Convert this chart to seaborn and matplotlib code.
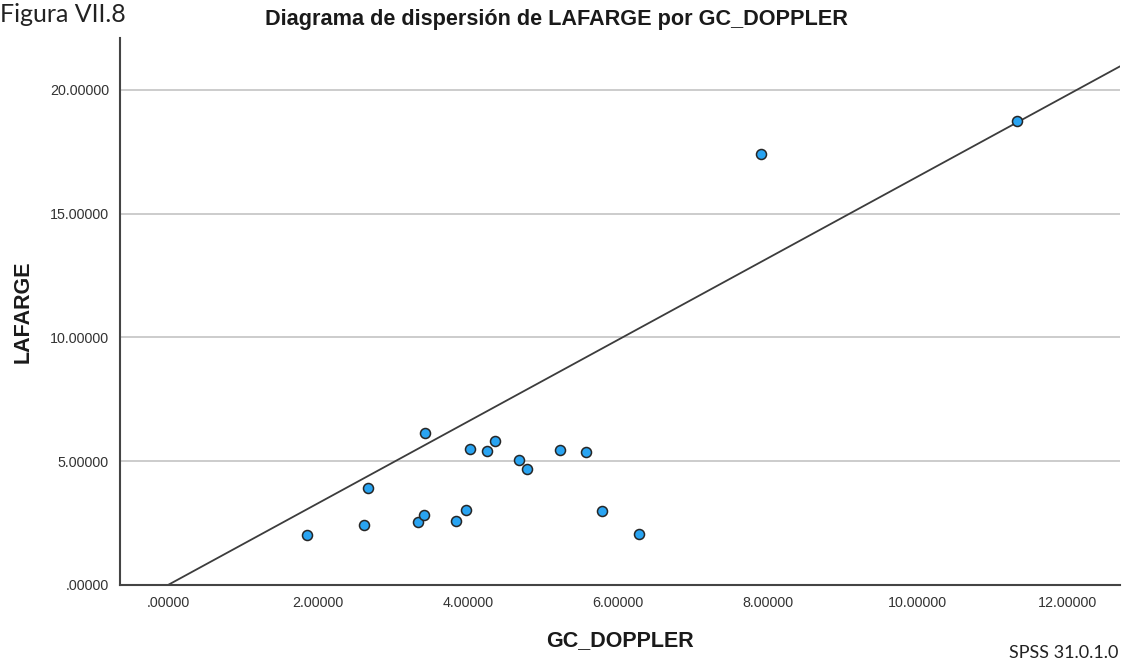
import numpy as np
import pandas as pd
import matplotlib
matplotlib.use("Agg")
import matplotlib.pyplot as plt
import seaborn as sns

# Data
gc_doppler = [1.86, 2.61, 2.67, 3.34, 3.41, 3.43, 3.84, 3.98, 4.03, 4.25,
              4.36, 4.68, 4.79, 5.23, 5.58, 5.79, 6.28, 7.91, 11.32]
lafarge = [2.02, 2.44, 3.91, 2.53, 2.83, 6.13, 2.57, 3.02, 5.51, 5.40,
           5.81, 5.05, 4.69, 5.45, 5.39, 3.00, 2.05, 17.41, 18.73]
ref_intercept = 0.0
ref_slope = 1.65
x_ticks = [0, 2, 4, 6, 8, 10, 12]
y_ticks = [0, 5, 10, 15, 20]

df = pd.DataFrame({"GC_DOPPLER": gc_doppler, "LAFARGE": lafarge})

sns.set_style("white")
plt.rcParams["font.family"] = ["Liberation Sans", "DejaVu Sans"]

W, H = 1127, 666
fig = plt.figure(figsize=(W / 100, H / 100), dpi=100)
ax = fig.add_axes([120 / W, 1 - 585 / H, (1120 - 120) / W, (585 - 38) / H])

ax.set_xlim(-0.64, 12.7)
ax.set_ylim(0, 22.1)

for yv in y_ticks[1:]:
    ax.axhline(yv, color="#c4c4c4", lw=1.2, zorder=0)

ax.axline((0, ref_intercept), slope=ref_slope, color="#3c3c3c", lw=1.3, zorder=2)

sns.scatterplot(data=df, x="GC_DOPPLER", y="LAFARGE", ax=ax, s=52,
                color="#29a4f2", edgecolor="#262626", linewidth=1.1, zorder=3)

ax.set_xticks(x_ticks)
ax.set_yticks(y_ticks)
fmt = lambda v: ("%.5f" % v).lstrip("0") if v == 0 else "%.5f" % v
ax.set_xticklabels([fmt(v) for v in x_ticks], fontsize=10.3, color="#333333")
ax.set_yticklabels([fmt(v) for v in y_ticks], fontsize=10.3, color="#333333")
ax.tick_params(axis="both", length=0, pad=8)

for side in ["top", "right"]:
    ax.spines[side].set_visible(False)
for side in ["left", "bottom"]:
    ax.spines[side].set_color("#444444")
    ax.spines[side].set_linewidth(1.5)

ax.set_xlabel("")
ax.set_ylabel("")
fig.text(620 / W, 1 - 641 / H, "GC_DOPPLER", ha="center", va="center",
         fontsize=15.5, fontweight="bold", color="#1a1a1a")
fig.text(23 / W, 1 - 312 / H, "LAFARGE", ha="center", va="center",
         rotation=90, fontsize=15.5, fontweight="bold", color="#1a1a1a")
fig.text(556 / W, 1 - 19 / H, "Diagrama de dispersión de LAFARGE por GC_DOPPLER",
         ha="center", va="center", fontsize=15.6, fontweight="bold", color="#1a1a1a")
fig.text(0 / W, 1 - 14 / H, "Figura VII.8", ha="left", va="center",
         fontsize=18, family=["Lato", "DejaVu Sans"], color="#222222")
fig.text(1118 / W, 1 - 653 / H, "SPSS 31.0.1.0", ha="right", va="center",
         fontsize=13, family=["Lato", "DejaVu Sans"], color="#222222")

fig.savefig("out.png", dpi=100)
